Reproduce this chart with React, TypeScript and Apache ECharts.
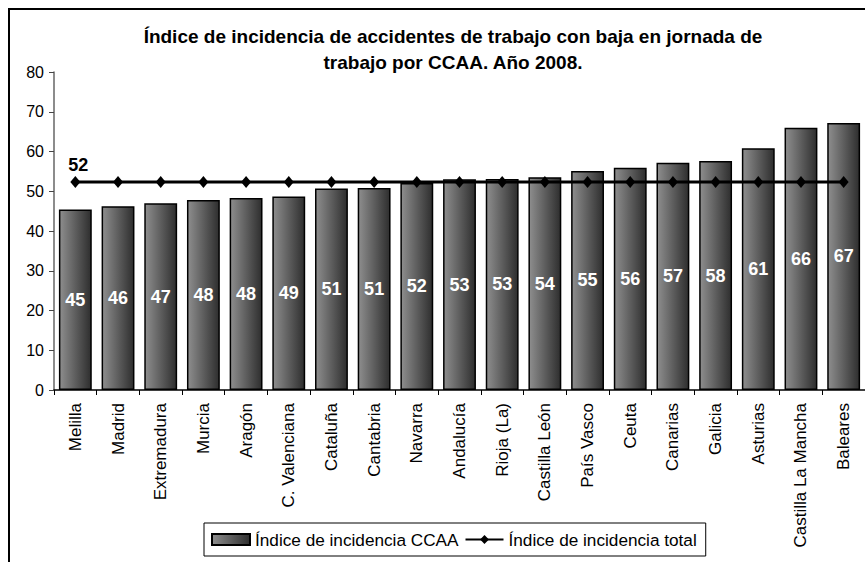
import React, { useEffect, useRef } from "react";
import * as echarts from "echarts";

const categories = [
  "Melilla", "Madrid", "Extremadura", "Murcia", "Aragón", "C. Valenciana",
  "Cataluña", "Cantabria", "Navarra", "Andalucía", "Rioja (La)", "Castilla León",
  "País Vasco", "Ceuta", "Canarias", "Galicia", "Asturias", "Castilla La Mancha", "Baleares",
];
const ccaaValues = [
  45.4, 46.2, 47.0, 47.8, 48.3, 48.7, 50.7, 50.8, 52.1, 53.0, 53.1, 53.5,
  55.1, 55.9, 57.2, 57.6, 60.8, 66.0, 67.2,
];
const totalValues = [
  52.3, 52.3, 52.3, 52.3, 52.3, 52.3, 52.3, 52.3, 52.3, 52.3, 52.3, 52.3,
  52.3, 52.3, 52.3, 52.3, 52.3, 52.3, 52.3,
];
const yTicks = { min: 0, max: 80, interval: 10 };
const titleText = "Índice de incidencia de accidentes de trabajo con baja en jornada de\ntrabajo por CCAA. Año 2008.";
const seriesNames = ["Índice de incidencia CCAA", "Índice de incidencia total"];

const FONT = "'Liberation Sans', Arial, sans-serif";

export default function App() {
  const ref = useRef<HTMLDivElement>(null);
  useEffect(() => {
    if (!ref.current) return;
    const chart = echarts.init(ref.current, null, { renderer: "svg" });
    const barGradient = new echarts.graphic.LinearGradient(0, 0, 1, 0, [
      { offset: 0, color: "#8e8e8e" },
      { offset: 1, color: "#2e2e2e" },
    ]);
    chart.setOption({
      animation: false,
      backgroundColor: "#ffffff",
      textStyle: { fontFamily: FONT },
      graphic: [
        {
          type: "rect",
          shape: { x: 9, y: 9, width: 1000, height: 1000 },
          style: { fill: "none", stroke: "#000", lineWidth: 2 },
          silent: true,
        },
      ],
      title: {
        text: titleText,
        left: 448,
        textAlign: "center",
        top: 18,
        textStyle: {
          fontFamily: FONT,
          fontSize: 19,
          fontWeight: "bold",
          color: "#000",
          lineHeight: 26,
        },
      },
      legend: {
        left: 204,
        top: 523,
        orient: "horizontal",
        borderColor: "#000",
        borderWidth: 1,
        padding: [8, 9, 8, 7],
        itemGap: 6,
        itemWidth: 38,
        itemHeight: 11,
        textStyle: { fontFamily: FONT, fontSize: 17.2, color: "#000" },
        data: [
          { name: seriesNames[0], icon: "rect" },
          { name: seriesNames[1] },
        ],
      },
      grid: { left: 54, right: 0, top: 72, bottom: 172, containLabel: false },
      xAxis: {
        type: "category",
        data: categories,
        axisLine: { lineStyle: { color: "#000", width: 1.5 } },
        axisTick: { show: true, length: 5, lineStyle: { color: "#000" } },
        axisLabel: {
          rotate: 90,
          interval: 0,
          margin: 13,
          fontFamily: FONT,
          fontSize: 17,
          color: "#000",
        },
      },
      yAxis: {
        type: "value",
        min: yTicks.min,
        max: yTicks.max,
        interval: yTicks.interval,
        splitLine: { show: false },
        axisLine: { show: true, lineStyle: { color: "#666", width: 1.5 } },
        axisTick: { show: true, length: 5, lineStyle: { color: "#444" } },
        axisLabel: { fontFamily: FONT, fontSize: 16, color: "#000", margin: 10 },
      },
      series: [
        {
          name: seriesNames[0],
          type: "bar",
          data: ccaaValues,
          barCategoryGap: "23%",
          itemStyle: { color: barGradient, borderColor: "#000", borderWidth: 1.5 },
          label: {
            show: true,
            position: "inside",
            color: "#fff",
            fontFamily: FONT,
            fontSize: 18,
            fontWeight: "bold",
            formatter: (p: any) => String(Math.round(p.value)),
          },
          z: 2,
        },
        {
          name: seriesNames[1],
          type: "line",
          data: totalValues.map((v, i) =>
            i === 0
              ? {
                  value: v,
                  label: {
                    show: true,
                    position: "top",
                    distance: 2,
                    offset: [3, 0],
                    color: "#000",
                    fontFamily: FONT,
                    fontSize: 18,
                    fontWeight: "bold",
                    formatter: (p: any) => String(Math.round(p.value)),
                  },
                }
              : v
          ),
          symbol: "diamond",
          symbolSize: [10, 12],
          lineStyle: { color: "#000", width: 3 },
          itemStyle: { color: "#000" },
          z: 3,
        },
      ],
    });
    return () => chart.dispose();
  }, []);
  return (
    <div
      ref={ref}
      style={{ position: "absolute", left: 0, top: 0, width: 865, height: 562 }}
    />
  );
}
